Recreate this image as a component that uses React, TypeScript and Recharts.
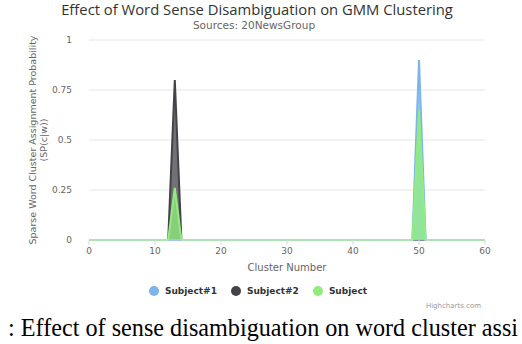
import React from 'react';
import {
    ComposedChart,
    Area,
    XAxis,
    YAxis,
    CartesianGrid,
    Legend,
} from 'recharts';

const clusters = [0, 12, 13, 14, 49, 50, 51, 60];
const subject1 = [0, 0, 0, 0, 0, 0.9, 0, 0];
const subject2 = [0, 0, 0.8, 0, 0, 0, 0, 0];
const subject = [0, 0, 0.26, 0, 0, 0.65, 0, 0];
const xTicks = [0, 10, 20, 30, 40, 50, 60];
const yTicks = [0, 0.25, 0.5, 0.75, 1];

const seriesList = [
    { key: 'subject1', name: 'Subject#1', color: '#7cb5ec' },
    { key: 'subject2', name: 'Subject#2', color: '#434348' },
    { key: 'subject', name: 'Subject', color: '#90ed7d' },
];

const data = clusters.map((c, i) => ({
    cluster: c,
    subject1: subject1[i],
    subject2: subject2[i],
    subject: subject[i],
}));

const font = '"DejaVu Sans", sans-serif';

const YTitle = (props: any) => {
    const { viewBox } = props;
    const cy = viewBox.y + viewBox.height / 2;
    return (
        <text
            transform={`translate(38, ${cy}) rotate(-90)`}
            textAnchor="middle"
            fill="#666666"
            fontSize={9.5}
            fontFamily={font}
        >
            <tspan x={0} dy={-2}>Sparse Word Cluster Assignment Probability</tspan>
            <tspan x={0} dy={11}>(SP(c|w))</tspan>
        </text>
    );
};

const LegendContent = () => (
    <div style={{ display: 'flex', justifyContent: 'center', gap: 14, fontFamily: font, fontSize: 9, fontWeight: 'bold', color: '#333333', paddingRight: 6 }}>
        {seriesList.map(s => (
            <div key={s.key} style={{ display: 'flex', alignItems: 'center' }}>
                <span style={{ width: 10, height: 10, borderRadius: 5, background: s.color, marginRight: 6, display: 'inline-block' }} />
                <span>{s.name}</span>
            </div>
        ))}
    </div>
);

export default function App() {
    return (
        <div style={{ position: 'absolute', left: 0, top: 0, width: 522, height: 344, background: '#fff', overflow: 'hidden' }}>
            <div style={{ position: 'absolute', top: 0, left: 0, width: 514, lineHeight: '18px', textAlign: 'center', fontFamily: '"Open Sans", sans-serif', fontSize: 14.8, color: '#333333' }}>
                Effect of Word Sense Disambiguation on GMM Clustering
            </div>
            <div style={{ position: 'absolute', top: 19, left: 0, width: 508, lineHeight: '12px', textAlign: 'center', fontFamily: font, fontSize: 10.5, color: '#666666' }}>
                Sources: 20NewsGroup
            </div>
            <ComposedChart
                width={522}
                height={344}
                data={data}
                margin={{ top: 40, right: 37, bottom: 68, left: 0 }}
            >
                <CartesianGrid vertical={false} stroke="#e6e6e6" />
                <XAxis
                    dataKey="cluster"
                    type="number"
                    domain={[0, 60]}
                    ticks={xTicks}
                    height={36}
                    tickSize={5}
                    tickMargin={3}
                    stroke="#ccd6eb"
                    tick={{ fill: '#666666', fontSize: 9, fontFamily: font }}
                    label={{ value: 'Cluster Number', position: 'insideBottom', offset: 5, fill: '#666666', fontSize: 10, fontFamily: font }}
                />
                <YAxis
                    type="number"
                    domain={[0, 1]}
                    ticks={yTicks}
                    width={89}
                    axisLine={false}
                    tickLine={false}
                    tickMargin={11}
                    tick={{ fill: '#666666', fontSize: 9, fontFamily: font }}
                    label={<YTitle />}
                />
                <Legend
                    verticalAlign="middle"
                    align="center"
                    content={<LegendContent />}
                    wrapperStyle={{ top: 286, left: 0, width: 522 }}
                />
                {seriesList.map(s => (
                    <Area
                        key={s.key}
                        type="linear"
                        dataKey={s.key}
                        name={s.name}
                        stroke={s.color}
                        strokeWidth={2}
                        fill={s.color}
                        fillOpacity={0.75}
                        dot={false}
                        activeDot={false}
                        isAnimationActive={false}
                    />
                ))}
            </ComposedChart>
            <div style={{ position: 'absolute', top: 302, left: 395, width: 86, textAlign: 'right', fontFamily: font, fontSize: 7, color: '#999999' }}>
                Highcharts.com
            </div>
            <div style={{ position: 'absolute', top: 314, left: 8, whiteSpace: 'nowrap', fontFamily: '"Liberation Serif", serif', fontSize: 24.2, color: '#000' }}>
                : Effect of sense disambiguation on word cluster assi
            </div>
        </div>
    );
}
